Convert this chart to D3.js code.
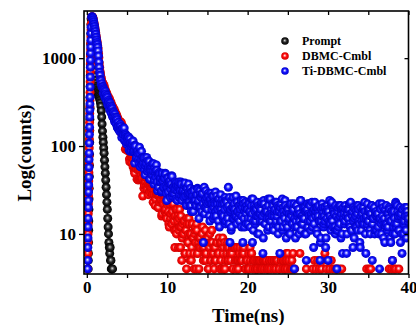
<!DOCTYPE html>
<html>
<head>
<meta charset="utf-8">
<script src="https://cdn.jsdelivr.net/npm/d3@7"></script>
<style>
  html, body { margin: 0; padding: 0; background: #fff; }
  svg { display: block; }
  text { font-family: "Liberation Serif", "Times New Roman", serif; font-weight: bold; fill: #000; }
</style>
</head>
<body>
<svg id="chart" width="416" height="325"></svg>
<script>
// time sampling of the data segments (ns)
const riseStep = 0.015, headStep = 0.05, tailStep = 0.1;
const riseStart = { prompt: 0.17, dbmc: 0.105, ti: 0.10 };
const headStart = 0.6, tailStart = 4.0, tailStartB = 4.05;

// Prompt (IRF)
const promptRise = [4, 5, 6, 8, 11, 14, 19, 25, 33, 45, 60, 80, 110, 150, 200, 270, 360, 480, 640, 850, 1100, 1450, 1900, 2400, 2800];
const promptHead = [2900, 2650, 2250, 1850, 1500, 1220, 990, 830, 710, 625, 560, 515, 480, 455, 432, 415, 400, 386, 372, 360,
  346, 330, 310, 285, 252, 214, 178, 148, 126, 110, 95, 83, 69, 58, 49, 41, 34, 28, 23, 19,
  15, 12, 10, 8, 7, 6, 7, 5, 5, 4, 4, 3, 4];

// DBMC-Cmbl
const dbmcRise = [4, 6, 8, 10, 13, 17, 22, 27, 33, 40, 50, 62, 77, 95, 120, 150, 185, 235, 280, 330, 410, 540, 700, 870, 1050, 1250, 1480, 1750, 2100, 2450];
const dbmcHead = [2890, 2965, 2945, 2880, 2790, 2640, 2520, 2360, 2240, 2080, 1960, 1810, 1710, 1580, 1500, 1380, 1290, 1140, 1020, 880,
  790, 705, 665, 612, 590, 549, 537, 505,
  520, 470, 452, 488, 430, 448, 405, 422, 378, 402, 394, 356, 366, 342, 328, 356, 318, 336, 301, 289,
  315, 296, 270, 288, 262, 276, 248, 237, 262, 250, 225, 242, 214, 205, 228, 216, 192, 209, 200, 186];
const dbmcTail = [
  187, 190, 162, 184, 136, 146, 127, 135, 92, 111,
  110, 88, 92, 71, 92, 76, 65, 74, 78, 53,
  57, 67, 56, 60, 41, 53, 62, 42, 47, 43,
  50, 33, 44, 39, 44, 32, 38, 44, 31, 34,
  39, 33, 28, 40, 28, 21, 33, 29, 29, 20,
  28, 32, 24, 16, 27, 23, 28, 18, 19, 16,
  23, 21, 13, 22, 15, 25, 13, 22, 15, 11,
  16, 11, 19, 14, 7, 15, 12, 16, 5, 10,
  10, 14, 6, 11, 4, 13, 8, 15, 6, 10,
  5, 13, 9, 6, 10, 12, 4, 11, 6, 8,
  7, 9, 3, 8, 12, 5, 7, 6, 5, 9,
  8, 4, 7, 10, 5, 6, 8, 3, 7, 5,
  5, 3, 8, 6, 6, 3, 8, 5, 4, 9,
  7, 4, 4, 3, 6, 8, 5, 1, 6, 5,
  2, 7, 4, 7, 3, 7, 4, 3, 5, 5,
  6, 5, 1, 5, 7, 6, 2, 4, 5, 2,
  1, 4, 4, 7, 3, 6, 2, 5, 3, 5,
  4, 3, 4, 5, 2, 5, 3, 4, 1, 5,
  5, 4, 5, 1, 4, 3, 2, 5, 3, 4,
  5, 2, 3, 5, 1, 4, 3, 5, 2, 4,
  3, 2, 5, 3, 1, 5, 4, 4, 6, 5,
  6, 3, 2, 4, 3, 5, 4, 3, 2, 3,
  3, 2, 3, 3, 1, 6, 3, 1, 2, 2,
  2, 3, 1, 4, 2, 3, 1, 2, 3, 2,
  3, 4, 2, 5, 3, 4, 2, 5, 3, 4,
  3, 2, 4, 3, 5, 2, 6, 3, 4, 2,
  5, 3, 4, 2, 5, 3, 4, 2, 3, 4,
  2, 4, 3, 2, 4, 3, 1, 4, 2, 3,
  2, 3, 1, 2, 3, 2, 1, 3, 2, 1,
  1, 2, 3, 2, 1, 2, 3, 1, 2, 2,
  3, 2, 1, 2, 3, 1, 2, 3, 4, 2,
  2, 4, 3, 4, 2, 3, 1, 2, 3, 2,
  2, 1, 3, 2, 1, 2, 3, 2, 1, 3,
  2, 3, 1, 2, 2, 3, 4, 2, 3, 4,
  5, 3, 4, 2, 4, 3, 2, 3, 4, 3,
  3, 2, 1, 2, 3, 2, 3, 1, 2, 3,
  2];
// in-between channels, 4.05 .. 25.95 ns
const dbmcTailB = [
  182, 189, 142, 161, 167, 127, 126, 137, 93, 107,
  91, 107, 89, 66, 89, 73, 90, 58, 69, 49,
  66, 55, 42, 63, 53, 42, 53, 60, 42, 27,
  50, 36, 42, 44, 35, 49, 28, 36, 30, 37,
  31, 37, 23, 32, 37, 25, 28, 34, 20, 27,
  23, 31, 25, 17, 28, 22, 30, 18, 23, 15,
  23, 18, 12, 22, 17, 13, 18, 22, 14, 7,
  19, 10, 15, 16, 11, 19, 7, 12, 9, 13,
  10, 14, 6, 11, 15, 8, 10, 13, 5, 10,
  7, 13, 9, 4, 11, 8, 13, 6, 9, 4,
  9, 7, 3, 10, 7, 5, 8, 11, 6, 2,
  9, 4, 7, 8, 5, 11, 3, 6, 4, 7,
  5, 8, 2, 6, 9, 4, 5, 8, 2, 6,
  4, 8, 5, 2, 7, 5, 7, 3, 6, 2,
  6, 4, 1, 7, 5, 3, 5, 7, 4, 1,
  7, 2, 5, 6, 3, 7, 1, 4, 3, 5,
  4, 6, 1, 5, 6, 3, 4, 5, 2, 4,
  3, 5, 4, 1, 5, 4, 5, 2, 4, 2,
  5, 3, 1, 5, 4, 2, 4, 5, 3, 1,
  5, 2, 4, 5, 3, 5, 1, 3, 2, 4,
  3, 5, 1, 4, 5, 2, 3, 5, 1, 4,
  2, 5, 3, 1, 4, 3, 6, 2, 4, 1];

// Ti-DBMC-Cmbl
const tiRise = [4, 5, 7, 9, 12, 15, 20, 24, 30, 36, 44, 57, 70, 83, 108, 135, 164, 214, 257, 300, 360, 470, 610, 790, 950, 1140, 1340, 1600, 1920, 2250];
const tiHead = [2920, 2955, 2930, 2860, 2720, 2580, 2430, 2290, 2150, 2010, 1870, 1730, 1610, 1510, 1430, 1330, 1210, 1060, 905, 785,
  690, 640, 572, 556, 505, 512, 468, 476,
  470, 398, 449, 433, 376, 356, 418, 391, 347, 330, 375, 356, 302, 289, 332, 317, 276, 259, 308, 287,
  246, 236, 279, 266, 219, 213, 247, 240, 204, 190, 231, 214, 184, 178, 210, 199, 163, 160, 186, 155];
const tiTail = [
  170, 146, 167, 151, 138, 160, 132, 115, 137, 126,
  111, 122, 127, 108, 87, 109, 99, 107, 86, 86,
  102, 84, 74, 85, 81, 64, 82, 68, 87, 61,
  68, 74, 53, 60, 64, 52, 68, 58, 42, 59,
  52, 58, 47, 63, 41, 51, 44, 53, 31, 46,
  50, 39, 43, 31, 49, 40, 34, 43, 48, 29,
  34, 43, 36, 40, 26, 37, 45, 29, 34, 32,
  39, 25, 35, 31, 36, 26, 32, 39, 27, 30,
  31, 26, 38, 27, 21, 33, 29, 30, 21, 33,
  18, 30, 27, 32, 23, 24, 21, 28, 32, 24,
  20, 28, 26, 18, 29, 8, 34, 20, 31, 23,
  19, 29, 23, 14, 25, 22, 27, 15, 20, 23,
  30, 16, 23, 19, 25, 12, 22, 19, 24, 17,
  16, 22, 26, 14, 23, 16, 34, 13, 8, 19,
  12, 20, 26, 15, 19, 17, 16, 23, 18, 21,
  14, 19, 24, 16, 8, 22, 12, 20, 17, 21,
  19, 13, 22, 18, 15, 25, 8, 11, 21, 18,
  14, 19, 23, 16, 10, 20, 17, 22, 14, 6,
  24, 17, 13, 19, 18, 11, 21, 15, 25, 14,
  17, 22, 12, 16, 19, 13, 23, 18, 10, 20,
  6, 20, 14, 25, 12, 18, 15, 21, 9, 18,
  20, 14, 17, 10, 22, 16, 13, 19, 4, 12,
  14, 21, 16, 19, 10, 17, 24, 13, 16, 15,
  20, 10, 18, 5, 19, 12, 17, 22, 14, 16,
  23, 15, 7, 19, 17, 18, 11, 20, 16, 14,
  5, 9, 19, 16, 20, 13, 14, 7, 18, 21,
  5, 14, 24, 13, 22, 15, 12, 18, 17, 10,
  11, 4, 18, 12, 21, 16, 9, 19, 6, 20,
  17, 14, 19, 6, 17, 15, 19, 13, 23, 11,
  16, 7, 20, 15, 12, 18, 21, 11, 19, 13,
  7, 16, 14, 13, 20, 15, 18, 6, 16, 22,
  14, 18, 11, 16, 21, 5, 15, 19, 10, 17,
  18, 16, 17, 10, 4, 15, 13, 22, 14, 9,
  15, 19, 12, 13, 11, 17, 20, 14, 8, 18,
  5, 10, 18, 13, 23, 12, 21, 15, 11, 17,
  8, 17, 6, 19, 10, 14, 17, 11, 20, 16,
  15];
// in-between channels, 4.05 .. 39.95 ns
const tiTailB = [
  153, 177, 155, 125, 156, 136, 160, 118, 132, 105,
  127, 111, 90, 121, 105, 88, 104, 114, 86, 64,
  100, 72, 85, 88, 71, 97, 58, 71, 61, 74,
  64, 73, 47, 65, 74, 52, 55, 67, 42, 56,
  47, 63, 52, 37, 56, 47, 61, 39, 48, 34,
  48, 40, 30, 48, 41, 33, 43, 49, 35, 24,
  44, 30, 38, 40, 32, 46, 27, 34, 29, 37,
  32, 38, 24, 34, 39, 28, 31, 37, 24, 31,
  27, 36, 30, 22, 33, 28, 37, 23, 29, 21,
  30, 25, 18, 31, 26, 21, 28, 33, 23, 15,
  31, 20, 26, 28, 22, 33, 17, 24, 20, 26,
  22, 27, 16, 24, 29, 19, 22, 27, 16, 22,
  18, 27, 22, 14, 25, 20, 28, 17, 22, 15,
  23, 19, 13, 24, 20, 15, 21, 26, 18, 11,
  24, 15, 20, 22, 16, 27, 13, 18, 15, 21,
  17, 22, 12, 20, 24, 15, 18, 23, 13, 19,
  15, 23, 18, 12, 21, 17, 25, 14, 19, 13,
  20, 16, 10, 21, 17, 14, 19, 23, 16, 9,
  22, 13, 18, 20, 15, 25, 12, 17, 14, 19,
  16, 21, 11, 18, 23, 14, 16, 21, 12, 18,
  14, 22, 17, 11, 20, 16, 24, 13, 18, 12,
  19, 15, 10, 21, 17, 13, 18, 22, 15, 9,
  21, 12, 17, 19, 14, 24, 11, 16, 13, 19,
  15, 20, 10, 18, 22, 14, 16, 21, 11, 17,
  12, 18, 13, 23, 16, 20, 10, 17, 21, 14,
  8, 14, 22, 18, 12, 16, 20, 9, 15, 19,
  18, 13, 16, 11, 23, 14, 19, 17, 12, 21,
  16, 11, 20, 15, 13, 21, 17, 10, 19, 15,
  13, 21, 16, 10, 19, 15, 22, 12, 17, 11,
  18, 14, 9, 19, 16, 12, 17, 21, 14, 8,
  20, 11, 17, 19, 13, 23, 10, 15, 13, 18,
  14, 19, 10, 17, 21, 13, 15, 20, 11, 16,
  11, 17, 12, 22, 15, 19, 10, 16, 20, 13,
  8, 13, 21, 17, 12, 15, 19, 9, 14, 18,
  17, 12, 15, 10, 22, 13, 18, 16, 11, 20,
  16, 10, 19, 14, 13, 20, 16, 9, 18, 14];

const seriesNames = ["Prompt", "DBMC-Cmbl", "Ti-DBMC-Cmbl"];
const xTicks = [0, 5, 10, 15, 20, 25, 30, 35, 40];
const xLabels = [0, 10, 20, 30, 40];
const yTicks = [10, 100, 1000];

function segment(values, t0, dt) {
  return values.map((v, i) => ({ t: t0 + i * dt, v: v }));
}

const series = [
  { name: seriesNames[0], grad: "gPrompt",
    pts: [].concat(segment(promptRise, riseStart.prompt, riseStep), segment(promptHead, headStart, headStep)) },
  { name: seriesNames[1], grad: "gDbmc",
    pts: [].concat(segment(dbmcRise, riseStart.dbmc, riseStep), segment(dbmcHead, headStart, headStep),
      segment(dbmcTail, tailStart, tailStep), segment(dbmcTailB, tailStartB, tailStep)).sort((a, b) => a.t - b.t) },
  { name: seriesNames[2], grad: "gTi",
    pts: [].concat(segment(tiRise, riseStart.ti, riseStep), segment(tiHead, headStart, headStep),
      segment(tiTail, tailStart, tailStep), segment(tiTailB, tailStartB, tailStep)).sort((a, b) => a.t - b.t) }
];

const svg = d3.select("#chart");
const plotLeft = 84, plotRight = 408.5, plotTop = 11, plotBottom = 274;

const x = d3.scaleLinear().domain([-0.35, 40]).range([plotLeft, plotRight]);
const y = d3.scaleLog().domain([3.5, 3440]).range([plotBottom, plotTop]);

// shaded ball markers
const defs = svg.append("defs");
const shades = [
  { id: "gPrompt", stops: ["#f0f0f0", "#909090", "#242424", "#000000"] },
  { id: "gDbmc", stops: ["#ffffff", "#ffa4a4", "#ff0a0a", "#d00000"] },
  { id: "gTi", stops: ["#ffffff", "#a4a4ff", "#1212ff", "#0000c8"] }
];
shades.forEach(s => {
  const g = defs.append("radialGradient").attr("id", s.id)
    .attr("cx", "50%").attr("cy", "50%").attr("r", "50%").attr("fx", "46%").attr("fy", "42%");
  [0, 0.18, 0.5, 1].forEach((o, i) => g.append("stop").attr("offset", o).attr("stop-color", s.stops[i]));
});
defs.append("clipPath").attr("id", "plotClip")
  .append("rect").attr("x", plotLeft).attr("y", plotTop)
  .attr("width", plotRight - plotLeft).attr("height", plotBottom - plotTop);

const plot = svg.append("g").attr("clip-path", "url(#plotClip)");
series.forEach(s => {
  plot.append("g").selectAll("circle")
    .data(s.pts.filter(d => d.v > 0))
    .enter()
    .append("circle")
    .attr("cx", d => x(d.t))
    .attr("cy", d => y(d.v))
    .attr("r", 4.5)
    .attr("fill", `url(#${s.grad})`);
});

// axes
const fmtX = d => xLabels.includes(d) ? d : "";
svg.append("g")
  .attr("transform", `translate(0,${plotBottom})`)
  .call(d3.axisBottom(x).tickValues(xTicks).tickFormat(fmtX).tickSize(4).tickSizeOuter(0));
svg.append("g")
  .attr("transform", `translate(0,${plotTop})`)
  .call(d3.axisBottom(x).tickValues(xTicks).tickFormat("").tickSize(4).tickSizeOuter(0));
svg.append("g")
  .attr("transform", `translate(${plotLeft},0)`)
  .call(d3.axisLeft(y).tickValues(yTicks).tickFormat(d3.format("d")).tickSize(5).tickSizeOuter(0));
svg.append("g")
  .attr("transform", `translate(${plotRight},0)`)
  .call(d3.axisLeft(y).tickValues(yTicks).tickFormat("").tickSize(4).tickSizeOuter(0));

svg.selectAll(".domain").remove();
svg.selectAll(".tick line").attr("stroke", "#000").attr("stroke-width", 1.3);
svg.selectAll(".tick text").attr("font-size", 17).attr("fill", "#000");

svg.append("rect")
  .attr("x", plotLeft).attr("y", plotTop)
  .attr("width", plotRight - plotLeft).attr("height", plotBottom - plotTop)
  .attr("fill", "none").attr("stroke", "#000").attr("stroke-width", 1.6);

// titles
svg.append("text")
  .attr("x", (plotLeft + plotRight) / 2 + 2).attr("y", 322)
  .attr("text-anchor", "middle").attr("font-size", 19)
  .text("Time(ns)");
svg.append("text")
  .attr("transform", "translate(31,153) rotate(-90)")
  .attr("text-anchor", "middle").attr("font-size", 19)
  .text("Log(counts)");

// legend
const legend = svg.append("g").attr("transform", "translate(285,41)");
series.forEach((s, i) => {
  legend.append("circle").attr("cx", 0).attr("cy", i * 15).attr("r", 3.8).attr("fill", `url(#${s.grad})`);
  legend.append("text").attr("x", 17).attr("y", i * 15 + 4.3).attr("font-size", 12).text(s.name);
});
</script>
</body>
</html>
